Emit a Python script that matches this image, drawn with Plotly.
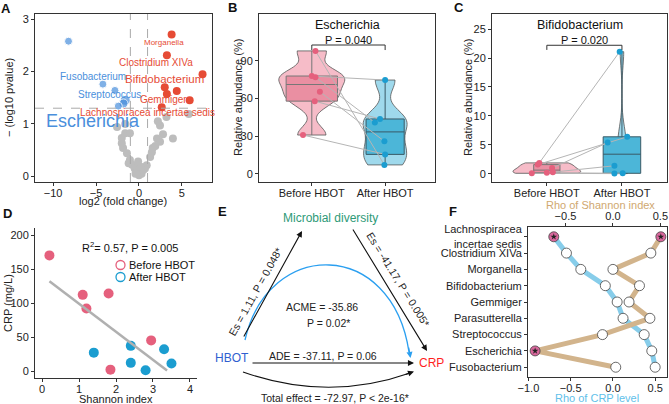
import numpy as np
import plotly.graph_objects as go

W, H = 669, 404
FONT = "Liberation Sans, Arial, sans-serif"

# ---------- A: volcano plot ----------
gray_fc = [-2.55, -2.0, -1.6, -1.05, -1.85, -2.0, -1.4, -1.05, -0.8, -0.5, -0.25, 0.0, 0.1, 0.3,
           0.5, 0.9, 0.7, 1.3, 1.5, 1.6, 1.9, 2.1, 2.45, 2.45, 2.2, 3.2, 3.95, 5.8, -0.4, 0.2,
           -1.2, 2.8, -0.1, -1.6]
gray_p = [0.94, 0.73, 0.82, 0.82, 0.54, 0.63, 0.44, 0.31, 0.22, 0.15, 0.1, 0.02, 0.08, 0.05,
          0.12, 0.21, 0.15, 0.37, 0.46, 0.54, 0.58, 0.72, 0.66, 0.97, 1.05, 1.13, 0.72, 1.19, 0.05, 0.18,
          0.25, 0.8, 0.28, 1.0]
up_fc = [3.8, 3.25, 7.4, 3.0, 4.4, 3.25, 5.9, 2.65]
up_p = [2.71, 2.31, 1.95, 1.70, 1.63, 1.57, 1.45, 1.32]
down_fc = [-8.2, -4.2, -2.8, -1.6, -1.8, -2.4]
down_p = [2.58, 1.76, 1.64, 1.45, 1.39, 1.34]

# ---------- B: Escherichia (paired by index) ----------
esch_before = [98, 78, 77, 65.5, 58, 31]
esch_after = [7.2, 74.8, 41, 26, 43.8, 15.6]
esch_jit_b = [0.05, 0.0, 0.05, 0.11, 0.04, -0.12]
esch_jit_a = [-0.01, 0.0, -0.14, -0.01, -0.07, 0.0]

# ---------- C: Bifidobacterium (paired by index) ----------
bifi_before = [1.9, 1.6, 1.0, 0.3, 0.2, 0.1]
bifi_after = [21.1, 6.4, 5.4, 1.4, 0.1, 0.05]
bifi_jit_b = [-0.1, -0.12, 0.07, 0.08, 0.0, -0.2]
bifi_jit_a = [-0.03, 0.07, -0.19, -0.1, 0.01, -0.1]

# ---------- D: Shannon vs CRP ----------
shannon_before = [0.2, 1.1, 1.2, 1.8, 2.95, 1.85]
crp_before = [170, 112, 92, 114, 45, 2]
shannon_after = [1.4, 2.4, 2.4, 2.8, 3.3, 3.5]
crp_after = [27, 37, 12, 1, 32, 11]

# ---------- F: correlations ----------
genera = ["Lachnospiracea<br>incertae sedis", "Clostridium XIVa", "Morganella", "Bifidobacterium",
          "Gemmiger", "Parasutterella", "Streptococcus", "Escherichia", "Fusobacterium"]
rho_crp = [-0.70, -0.55, -0.38, -0.09, 0.05, 0.12, 0.37, 0.46, 0.50]
rho_shannon = [0.505, 0.40, 0.0, 0.28, 0.17, 0.39, -0.11, -0.82, 0.03]
sig_crp = [1, 0, 0, 0, 0, 0, 0, 0, 0]
sig_shannon = [1, 0, 0, 0, 0, 0, 0, 1, 0]

PINK = "#e5607d"
BLUE = "#1b9dd0"
RED = "#e64b35"
ABLUE = "#4a8fdc"
TAN = "#d2b48c"
SKY = "#87cdea"

fig = go.Figure()

# A
fig.add_trace(go.Scatter(x=gray_fc, y=gray_p, mode="markers", xaxis="x", yaxis="y",
                         marker=dict(color="#bdbdbd", size=8)))
fig.add_trace(go.Scatter(x=up_fc, y=up_p, mode="markers", xaxis="x", yaxis="y",
                         marker=dict(color=RED, size=8)))
fig.add_trace(go.Scatter(x=down_fc, y=down_p, mode="markers", xaxis="x", yaxis="y",
                         marker=dict(color=ABLUE, size=[8, 8, 8, 10, 9, 8])))


def paired_panel(before, after, jb, ja, xa, ya, vw, bw, bws):
    # violins
    fig.add_trace(go.Violin(y=before, x0=1, xaxis=xa, yaxis=ya, width=vw[0], bandwidth=bws[0],
                            spanmode="hard", points=False, fillcolor="#f6bcc8",
                            line=dict(color="#555", width=0.8), opacity=1))
    fig.add_trace(go.Violin(y=after, x0=2, xaxis=xa, yaxis=ya, width=vw[1], bandwidth=bws[1],
                            spanmode="hard", points=False, fillcolor="#9fd9ec",
                            line=dict(color="#555", width=0.8), opacity=1))
    # boxes
    fig.add_trace(go.Box(y=before, x0=1, xaxis=xa, yaxis=ya, width=bw[0], boxpoints=False,
                         fillcolor="#ea8fa2", line=dict(color="#777", width=1), whiskerwidth=0))
    fig.add_trace(go.Box(y=after, x0=2, xaxis=xa, yaxis=ya, width=bw[1], boxpoints=False,
                         fillcolor="#4cb6d8", line=dict(color="#3a5a66", width=1), whiskerwidth=0))
    # pair lines
    for b, a, j1, j2 in zip(before, after, jb, ja):
        fig.add_trace(go.Scatter(x=[1 + j1, 2 + j2], y=[b, a], mode="lines", xaxis=xa, yaxis=ya,
                                 line=dict(color="#b5b5b5", width=1)))
    fig.add_trace(go.Scatter(x=[1 + j for j in jb], y=before, mode="markers", xaxis=xa, yaxis=ya,
                             marker=dict(color=PINK, size=6)))
    fig.add_trace(go.Scatter(x=[2 + j for j in ja], y=after, mode="markers", xaxis=xa, yaxis=ya,
                             marker=dict(color=BLUE, size=6)))


paired_panel(esch_before, esch_after, esch_jit_b, esch_jit_a, "x2", "y2",
             (0.9, 0.6), (0.7, 0.52), (7, 9))
paired_panel(bifi_before, bifi_after, bifi_jit_b, bifi_jit_a, "x3", "y3",
             (0.9, 0.15), (0.35, 0.5), (0.6, 2.5))

# D
fig.add_trace(go.Scatter(x=shannon_before, y=crp_before, mode="markers", xaxis="x4", yaxis="y4",
                         marker=dict(color=PINK, size=10)))
fig.add_trace(go.Scatter(x=shannon_after, y=crp_after, mode="markers", xaxis="x4", yaxis="y4",
                         marker=dict(color=BLUE, size=10)))
sx = np.array(shannon_before + shannon_after)
sy = np.array(crp_before + crp_after)
k, b0 = np.polyfit(sx, sy, 1)
xf = np.array([sx.min(), 3.38])
fig.add_trace(go.Scatter(x=xf, y=k * xf + b0, mode="lines", xaxis="x4", yaxis="y4",
                         line=dict(color="#b0b0b0", width=2.5)))

# F
ypos = list(range(len(genera)))
fig.add_trace(go.Scatter(x=rho_crp, y=ypos, mode="lines", xaxis="x6", yaxis="y6",
                         line=dict(color=SKY, width=5)))
fig.add_trace(go.Scatter(x=rho_shannon, y=ypos, mode="lines", xaxis="x7", yaxis="y6",
                         line=dict(color=TAN, width=5)))
for vals, sig, xa in [(rho_crp, sig_crp, "x6"), (rho_shannon, sig_shannon, "x7")]:
    fig.add_trace(go.Scatter(x=vals, y=ypos, mode="markers", xaxis=xa, yaxis="y6",
                             marker=dict(size=10, color=["#d8679c" if s else "white" for s in sig],
                                         line=dict(color="#444", width=0.8))))
    sx_ = [v for v, s in zip(vals, sig) if s]
    sy_ = [p for p, s in zip(ypos, sig) if s]
    fig.add_trace(go.Scatter(x=sx_, y=sy_, mode="markers", xaxis=xa, yaxis="y6",
                             marker=dict(symbol="star", size=5, color="#222")))

ann = []
shapes = []


def note(x, y, t, size=11, color="#222", angle=0, xref="paper", yref="paper", xanchor="center"):
    if xref == "paper":
        x = x / W
    if yref == "paper":
        y = 1 - y / H
    ann.append(dict(x=x, y=y, xref=xref, yref=yref, text=t, showarrow=False, textangle=angle,
                    xanchor=xanchor, yanchor="middle",
                    font=dict(size=size, color=color, family=FONT)))


# ---------- E: mediation diagram (pixel-like coords) ----------
def etext(x, y, t, size=10.5, color="#222", angle=0):
    note(x, y, t, size, color, angle, "x5", "y5")


def earrow(x0, y0, x1, y1, color="#111"):
    ann.append(dict(x=x1, y=y1, ax=x0, ay=y0, xref="x5", yref="y5", axref="x5", ayref="y5",
                    text="", showarrow=True, arrowhead=2, arrowsize=1.1, arrowwidth=1.1,
                    arrowcolor=color, standoff=0))


etext(330, 218, "Microbial diversity", 12, "#2e9a78")
etext(232, 358, "HBOT", 12, "#2f5fd0")
etext(431, 363, "CRP", 12, "#ff1f1f")
earrow(243, 338, 302, 231)
earrow(352, 228, 427, 351)
earrow(251, 363, 414, 363)
etext(255, 292, "Es = 1.11, P = 0.048*", 10.5, angle=-61)
etext(398, 279, "Es = -41.17, P = 0.005*", 10.5, angle=58)
etext(322, 307, "ACME = -35.86")
etext(328, 323, "P = 0.02*")
etext(323, 356, "ADE = -37.11, P = 0.06")
etext(335, 398, "Total effect = -72.97, P < 2e-16*")
shapes.append(dict(type="path", xref="x5", yref="y5", path="M 245,340 C 268,238 392,238 409,352",
                   line=dict(color="#2a9ff0", width=1.3)))
earrow(408.5, 346, 410.5, 358, "#2a9ff0")
shapes.append(dict(type="path", xref="x5", yref="y5", path="M 243,372 Q 328,402 410,373",
                   line=dict(color="#111", width=1.1)))
earrow(404, 375, 414, 371.5)

# ---------- A labels ----------
for x, y, t, s, c in [(2.9, 2.56, "Morganella", 8, RED), (2.0, 2.18, "Clostridium XIVa", 10, RED),
                      (2.95, 1.86, "Bifidobacterium", 11.5, RED), (2.8, 1.47, "Gemmiger", 10, RED),
                      (0.95, 1.22, "Lachnospiracea incertae sedis", 10, RED),
                      (-5.4, 1.90, "Fusobacterium", 10, ABLUE), (-3.4, 1.56, "Streptococcus", 10, ABLUE),
                      (-5.3, 1.05, "Escherichia", 18, ABLUE)]:
    note(x, y, t, s, c, xref="x", yref="y")

shapes += [
    dict(type="line", xref="x", yref="y domain", x0=-1, x1=-1, y0=0, y1=1,
         line=dict(color="#aaa", width=1, dash="dash")),
    dict(type="line", xref="x", yref="y domain", x0=1, x1=1, y0=0, y1=1,
         line=dict(color="#aaa", width=1, dash="dash")),
    dict(type="line", xref="x domain", yref="y", x0=0, x1=1, y0=1.3, y1=1.3,
         line=dict(color="#aaa", width=1, dash="dash")),
]

# B / C titles and brackets
for xa, ya, title, p, yb, tip in [("x2", "y2", "Escherichia", "P = 0.040", 102.7, 4),
                                  ("x3", "y3", "Bifidobacterium", "P = 0.020", 22.2, 0.8)]:
    note(0.5, 0.935, title, 12.5, "#111", xref=xa + " domain", yref=ya + " domain")
    note(1.5, 0.843, p, 11, "#111", xref=xa, yref=ya + " domain")
    shapes.append(dict(type="path", xref=xa, yref=ya,
                       path=f"M 1,{yb - tip} L 1,{yb} L 2,{yb} L 2,{yb - tip}",
                       line=dict(color="#333", width=1)))

# D annotation and legend
note(130, 247, "R<sup>2</sup>= 0.57, P = 0.005", 11, "#111")
for lab, col, ly in [("Before HBOT", PINK, 265), ("After HBOT", BLUE, 277)]:
    note(127, ly, lab, 11, "#111", xanchor="left")
    shapes.append(dict(type="circle", xref="paper", yref="paper", x0=116 / W, x1=125 / W,
                       y0=1 - (ly + 4.5) / H, y1=1 - (ly - 4.5) / H, line=dict(color=col, width=1.3)))

# axis titles
for x, y, t, c, a in [(123, 201, "log2 (fold change)", "#222", 0), (9, 98, "− (log10 pvalue)", "#222", -90),
                      (238, 98, "Relative abundance (%)", "#222", -90),
                      (468, 98, "Relative abundance (%)", "#222", -90),
                      (116, 399, "Shannon index", "#222", 0), (8, 303, "CRP (mg/L)", "#222", -90),
                      (597, 398, "Rho of CRP level", "#5fc1ea", 0),
                      (600, 205, "Rho of Shannon index", "#d0a870", 0)]:
    note(x, y, t, 11, c, a)

# panel letters
for t, x, y in [("A", 6, 8), ("B", 232, 7), ("C", 459, 7), ("D", 7, 213), ("E", 222, 211), ("F", 453, 211)]:
    note(x, y, f"<b>{t}</b>", 13, "#111")


def ax(**kw):
    d = dict(showline=True, linecolor="#333", linewidth=1, mirror=True, ticks="outside", ticklen=3,
             tickcolor="#333", tickfont=dict(size=11, color="#222", family=FONT), showgrid=False,
             zeroline=False, automargin=False)
    d.update(kw)
    return d


cats = ["Before HBOT", "After HBOT"]
top = 1 - 14 / H
bot = 1 - 182 / H
fig.update_layout(
    template="none",
    width=W, height=H, margin=dict(l=0, r=0, t=0, b=0, pad=0, autoexpand=False),
    paper_bgcolor="white", plot_bgcolor="white", showlegend=False, font=dict(family=FONT),
    xaxis=ax(domain=[35 / W, 212 / W], range=[-12.1, 8.5], tickvals=[-10, -5, 0, 5],
             ticktext=["−10", "−5", "0", "5"], anchor="y", ticklabelstandoff=-2),
    yaxis=ax(domain=[bot, top], range=[-0.11, 3.1], tickvals=[0, 1, 2, 3], anchor="x"),
    xaxis2=ax(domain=[259 / W, 435 / W], range=[0.28, 2.68], tickvals=[1, 2], ticktext=cats, anchor="y2",
              ticklabelstandoff=-2),
    yaxis2=ax(domain=[bot, top], range=[-6.4, 127.4], tickvals=[0, 30, 60, 90], anchor="x2"),
    xaxis3=ax(domain=[492 / W, 667 / W], range=[0.27, 2.6], tickvals=[1, 2], ticktext=cats, anchor="y3",
              ticklabelstandoff=-2),
    yaxis3=ax(domain=[bot, top], range=[-1.4, 27.6], tickvals=[0, 5, 10, 15, 20, 25], anchor="x3"),
    xaxis4=ax(domain=[35 / W, 197 / W], range=[-0.19, 4.19], tickvals=[0, 1, 2, 3, 4], anchor="y4",
              mirror=False, ticklabelstandoff=-2),
    yaxis4=ax(domain=[1 - 378 / H, 1 - 228 / H], range=[-10.3, 210.3], tickvals=[0, 50, 100, 150, 200],
              anchor="x4", mirror=False),
    xaxis5=dict(domain=[200 / W, 440 / W], range=[200, 440], visible=False, anchor="y5"),
    yaxis5=dict(domain=[0, 210 / H], range=[404, 194], visible=False, anchor="x5"),
    xaxis6=ax(domain=[528 / W, 667 / W], range=[-1.005, 0.64], tickvals=[-1, -0.5, 0, 0.5],
              ticktext=["−1.0", "−0.5", "0.0", "0.5"], anchor="y6", ticklabelstandoff=-2),
    xaxis7=ax(range=[-0.895, 0.57], tickvals=[-0.5, 0, 0.5], ticktext=["−0.5", "0.0", "0.5"],
              overlaying="x6", side="top", anchor="y6", ticklabelstandoff=-1),
    yaxis6=ax(domain=[1 - 377 / H, 1 - 227 / H], range=[8.6, -0.6], tickvals=ypos, ticktext=genera,
              anchor="x6"),
    annotations=ann, shapes=shapes,
)

fig.write_html("out.html", config={"displayModeBar": False},
               post_script="document.body.style.margin='0px';")
